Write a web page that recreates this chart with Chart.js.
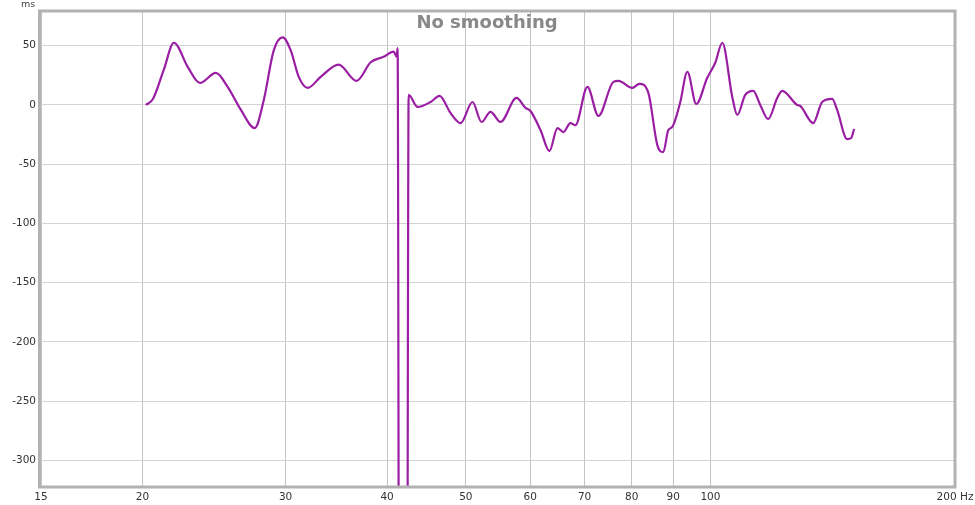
<!DOCTYPE html>
<html><head><meta charset="utf-8">
<script src="https://cdn.jsdelivr.net/npm/chart.js@4"></script>
<style>html,body{margin:0;padding:0;background:#fff;}#wrap{width:975px;height:505px;}</style>
</head><body><div id="wrap"><canvas id="c" width="975" height="505"></canvas></div>
<script>
const freqHz = [20.19,20.60,21.25,21.86,22.74,23.53,24.62,25.47,26.42,27.49,28.20,29.01,29.76,30.44,31.14,31.94,33.14,34.87,36.69,38.18,39.61,40.75,41.09,41.21,41.44,42.27,42.52,43.61,45.25,46.41,47.88,49.26,50.96,52.27,53.62,55.16,57.72,59.21,60.05,61.78,63.37,64.82,65.93,67.25,68.21,70.57,72.80,75.96,77.04,80.15,81.76,83.87,86.03,87.50,88.75,89.76,91.82,93.66,96.08,99.11,101.39,103.42,106.39,107.90,110.37,112.90,115.16,117.80,120.84,122.56,127.88,128.97,133.81,137.26,141.20,143.21,147.32,148.99,150.28];
const delayMs = [0,5,30,52.5,32,18.6,27,15,-4,-19.5,4,46,57,46,23.7,14.4,23.7,34,20.3,36,40.7,45,40.7,48,-700,-700,8.5,-1.7,2.5,7.6,-6.8,-15.3,2.5,-14.4,-5.9,-14.4,5.9,-2.5,-5.1,-21.2,-39,-19.5,-22.9,-15.3,-17,15.3,-9.3,19.5,20.3,14.4,17.8,10.2,-33.9,-39.8,-21.2,-18.6,2.5,28,0.8,22.9,35.6,52.5,6.8,-8.5,8.5,11.9,0,-11.9,5.9,11.9,0,-0.8,-15.3,2.5,5.1,-4.2,-28.8,-28,-20.3];
const xTicks = [15,20,30,40,50,60,70,80,90,100,200];
const yTicks = [-300,-250,-200,-150,-100,-50,0,50];
const titleText = "No smoothing";
const yUnit = "ms";
const xUnit = "Hz";

const pts = freqHz.map((f,i)=>({x:f,y:delayMs[i]}));
const tickFont = {size:10.5, family:'"DejaVu Sans", sans-serif'};

const framePlugin = {
  id:'frame',
  afterDraw(chart){
    const a = chart.chartArea, ctx = chart.ctx;
    ctx.save();
    ctx.strokeStyle = '#b2b2b2';
    ctx.lineWidth = 3;
    ctx.strokeRect(a.left-1.5, a.top, a.right-a.left+1.5, a.bottom-a.top);
    ctx.fillStyle = '#888';
    ctx.font = 'bold 18px "DejaVu Sans", sans-serif';
    ctx.textAlign = 'center';
    ctx.textBaseline = 'middle';
    ctx.fillText(titleText, 487, 23);
    ctx.fillStyle = '#444';
    ctx.font = '9.5px "DejaVu Sans", sans-serif';
    ctx.fillText(yUnit, 28, 5);
    ctx.restore();
  }
};

new Chart(document.getElementById('c'), {
  type:'line',
  data:{datasets:[{data:pts, borderColor:'#9a1ea3', borderWidth:2.2, pointRadius:0, fill:false, cubicInterpolationMode:'monotone'}]},
  options:{
    responsive:false, animation:false, devicePixelRatio:1,
    layout:{padding:{left:0,right:20,top:11,bottom:0}},
    plugins:{legend:{display:false}, tooltip:{enabled:false}},
    scales:{
      x:{type:'logarithmic', min:15, max:200,
        afterBuildTicks(s){ s.ticks = xTicks.map(v=>({value:v})); },
        afterFit(s){ s.height = 18; s.paddingLeft = 0; s.paddingRight = 0; },
        grid:{color:'#c4c4c4', drawTicks:false, lineWidth:1},
        border:{display:false},
        ticks:{autoSkip:false, maxRotation:0, padding:4, color:'#333', font:tickFont,
          callback(v){ return v===200 ? v+' '+xUnit : String(v); }}
      },
      y:{type:'linear', min:-322.5, max:79.3,
        afterBuildTicks(s){ s.ticks = yTicks.map(v=>({value:v})); },
        afterFit(s){ s.width = 41; s.paddingTop = 0; s.paddingBottom = 0; },
        grid:{color:'#d2d2d2', drawTicks:false, lineWidth:1},
        border:{display:false},
        ticks:{padding:5, color:'#333', font:tickFont,
          callback(v){ return String(v); }}
      }
    }
  },
  plugins:[framePlugin]
});
</script></body></html>
